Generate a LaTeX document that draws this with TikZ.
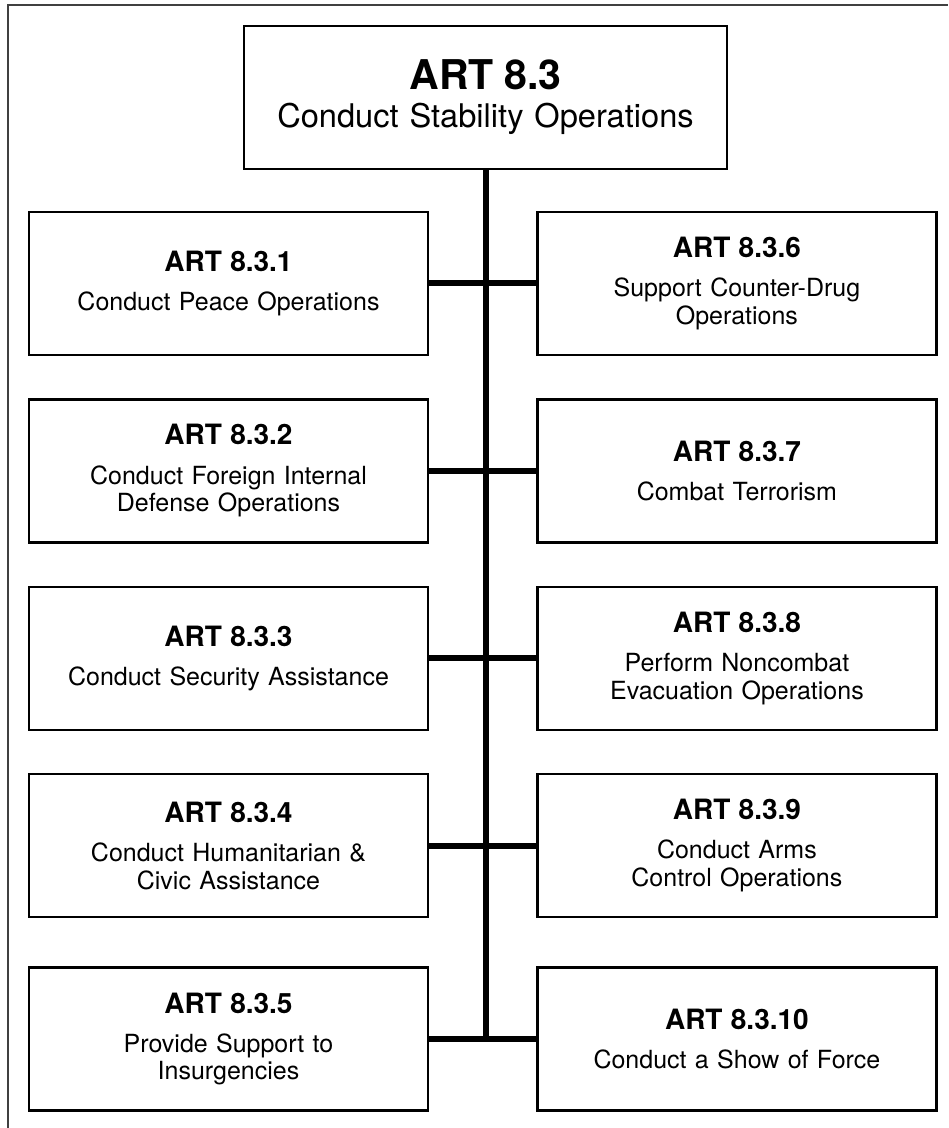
\documentclass[tikz,border=0pt]{standalone}
\usepackage{fontspec}
\setmainfont{TeX Gyre Heros}
\usepackage{tikz}
\usetikzlibrary{positioning}

\newcommand{\arttitle}[1]{{\fontsize{14}{14}\selectfont\bfseries ART #1}}

\begin{document}
\begin{tikzpicture}[
    x=0.5pt, y=-0.5pt,
    node distance=21pt,
    artbox/.style={draw=black, line width=1.2pt, minimum width=199.5pt, minimum height=71.5pt, text width=190pt, inner sep=0pt, align=center, font=\fontsize{12.5}{13.8}\selectfont},
    topbox/.style={artbox, minimum width=241.5pt, text width=235pt, font=\fontsize{16.3}{19}\selectfont},
    link/.style={line width=3pt, draw=black},
    frame/.style={line width=0.75pt, draw=black!75}
  ]
    \useasboundingbox (0,0) rectangle (948,1128);
    \draw[frame] (8,1128) -- (8,5) -- (948,5);

    \node[topbox] (top) at (485.5,97.5) {{\fontsize{20.5}{20}\selectfont\bfseries ART 8.3}\\Conduct Stability Operations};

    \node[artbox] (art1) at (228.5,283.5) {\arttitle{8.3.1}\\[5.8pt]Conduct Peace Operations};
    \node[artbox, below=of art1] (art2) {\arttitle{8.3.2}\\[5.8pt]Conduct Foreign Internal\\Defense Operations};
    \node[artbox, below=of art2] (art3) {\arttitle{8.3.3}\\[5.8pt]Conduct Security Assistance};
    \node[artbox, below=of art3] (art4) {\arttitle{8.3.4}\\[5.8pt]Conduct Humanitarian \&\\Civic Assistance};
    \node[artbox, below=24pt of art4] (art5) {\arttitle{8.3.5}\\[5.8pt]Provide Support to\\Insurgencies};

    \node[artbox, right=53.5pt of art1] (art6) {\arttitle{8.3.6}\\[5.8pt]Support Counter-Drug\\Operations};
    \node[artbox, right=53.5pt of art2] (art7) {\arttitle{8.3.7}\\[5.8pt]Combat Terrorism};
    \node[artbox, right=53.5pt of art3] (art8) {\arttitle{8.3.8}\\[5.8pt]Perform Noncombat\\Evacuation Operations};
    \node[artbox, right=53.5pt of art4] (art9) {\arttitle{8.3.9}\\[5.8pt]Conduct Arms\\Control Operations};
    \node[artbox, right=53.5pt of art5] (art10) {\arttitle{8.3.10}\\[5.8pt]Conduct a Show of Force};

    \draw[link] (top) -- (top |- art5);
    \draw[link] (art1) -- (art6);
    \draw[link] (art2) -- (art7);
    \draw[link] (art3) -- (art8);
    \draw[link] (art4) -- (art9);
    \draw[link] (art5) -- (art10);
\end{tikzpicture}
\end{document}
